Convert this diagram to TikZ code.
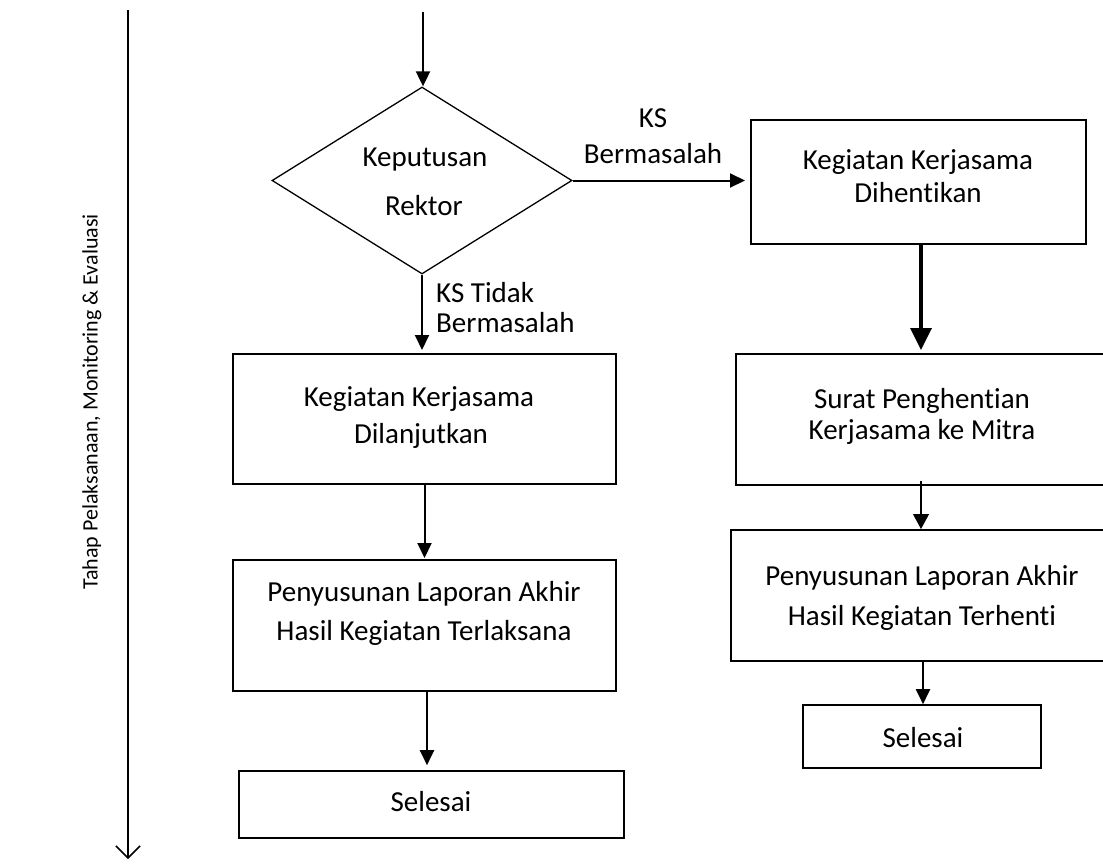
\documentclass[tikz,border=0pt]{standalone}
\usepackage{fontspec}
\setmainfont{Carlito}[Ligatures={NoCommon,NoContextual,NoRequired}]
\usetikzlibrary{arrows.meta,shapes.geometric}
\begin{document}
\begin{tikzpicture}[x=1pt,y=-1pt,
  box/.style={draw, line width=2pt, rectangle, inner sep=0pt},
  dec/.style={draw, diamond, line width=1.3pt, inner sep=0pt, minimum width=300pt, minimum height=187pt},
  txt/.style={font=\fontsize{29}{35}\selectfont, anchor=base, inner sep=0pt},
  arr/.style={line width=2pt, -{Triangle[length=15pt,width=14pt]}},
  arrthick/.style={line width=3.5pt, -{Triangle[length=22pt,width=21pt]}},
  arrthin/.style={line width=1.3pt, -{Triangle[length=15pt,width=16pt]}},
  timeline/.style={line width=1.6pt, -{Straight Barb[length=12pt,width=24pt,line width=1.5pt]}}
]
\clip (0,0) rectangle (1103,864);
\fill[white] (0,0) rectangle (1103,864);

% timeline
\coordinate (t0) at (128,10);
\coordinate (t1) at (128,859);
\draw[timeline] (t0) -- (t1);
\node[rotate=90, font=\fontsize{22}{26}\selectfont, inner sep=0pt] (lbl) at (92,402) {Tahap Pelaksanaan, Monitoring \& Evaluasi};

% decision
\node[dec] (D) at (422,180.5) {};
\node[txt] (Dt1) at (425,166) {Keputusan};
\node[txt] (Dt2) at (424,215) {Rektor};
\coordinate (start) at (423,12);
\draw[arr] (start) -- (start |- D.north);

% left column
\node[box, minimum width=383pt, minimum height=130pt] (L1) at (424.5,419) {};
\node[txt] (L1a) at (419,406) {Kegiatan Kerjasama};
\node[txt] (L1b) at (421,443) {Dilanjutkan};

\node[box, minimum width=383pt, minimum height=131pt] (L2) at (424.5,625.5) {};
\node[txt] (L2a) at (424,601) {Penyusunan Laporan Akhir};
\node[txt] (L2b) at (424,640) {Hasil Kegiatan Terlaksana};

\node[box, line width=1.6pt, minimum width=385pt, minimum height=67pt] (L3) at (431.5,804.5) {};
\node[txt] (L3a) at (431,811) {Selesai};

% right column
\node[box, minimum width=335pt, minimum height=124pt] (R1) at (918.5,182) {};
\node[txt] (R1a) at (918,170) {Kegiatan Kerjasama};
\node[txt] (R1b) at (918,202) {Dihentikan};

\node[box, minimum width=379pt, minimum height=131pt] (R2) at (925.5,419.5) {};
\node[txt] (R2a) at (922,408) {Surat Penghentian};
\node[txt] (R2b) at (922,439) {Kerjasama ke Mitra};

\node[box, minimum width=384pt, minimum height=131pt] (R3) at (923,595.5) {};
\node[txt] (R3a) at (922,585) {Penyusunan Laporan Akhir};
\node[txt] (R3b) at (922,625) {Hasil Kegiatan Terhenti};

\node[box, line width=1.6pt, minimum width=238pt, minimum height=63pt] (R4) at (922,736.5) {};
\node[txt] (R4a) at (923,747) {Selesai};

% branch labels
\node[txt] (ks1) at (653,128) {KS};
\node[txt] (ks2) at (653,164) {Bermasalah};
\node[txt, anchor=base west] (kt1) at (436,302) {KS Tidak};
\node[txt, anchor=base west] (kt2) at (436,332) {Bermasalah};

% connectors
\draw[arr, shorten >=5pt] (D.east) -- (D.east -| R1.west);
\draw[arr, shorten >=3pt] (D.south) -- (D.south |- L1.north);
\draw[arr, shorten >=1pt] (L1.south) -- (L2.north);
\coordinate (l2out) at (427,691);
\draw[arr, shorten >=5pt] (l2out) -- (l2out |- L3.north);
\coordinate (r1out) at (921,244);
\draw[arrthick, shorten >=3pt] (r1out) -- (r1out |- R2.north);
\coordinate (r2out) at (921,481);
\draw[arrthin] (r2out) -- (r2out |- R3.north);
\coordinate (r3out) at (923,661);
\draw[arr] (r3out) -- (r3out |- R4.north);
\end{tikzpicture}
\end{document}
